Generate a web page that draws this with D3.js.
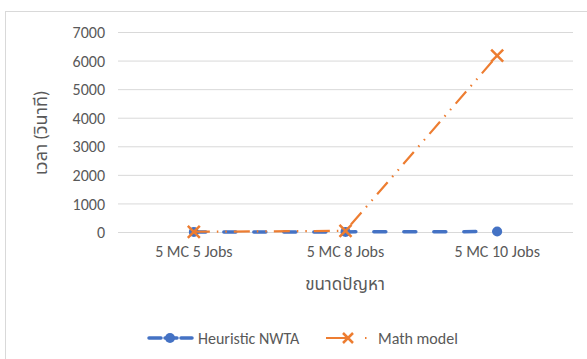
<!DOCTYPE html>
<html>

<head>
  <meta charset='utf-8'>
  <script src="https://cdn.jsdelivr.net/npm/d3@7"></script>
  <style type="text/css">
    body {
      margin: 0;
      background: #fff;
    }

    text {
      font-family: Calibri, "Noto Sans", "Noto Sans Thai", sans-serif;
      fill: #595959;
    }
  </style>
</head>

<body>
  <script>
    let categories = ["5 MC 5 Jobs", "5 MC 8 Jobs", "5 MC 10 Jobs"]
    let heuristic = [2, 4, 15]
    let mathModel = [8, 40, 6170]
    let yTicks = [0, 1000, 2000, 3000, 4000, 5000, 6000, 7000]
    let seriesNames = ["Heuristic NWTA", "Math model"]

    let w = 587
    let h = 359
    let blue = "#4472C4"
    let orange = "#ED7D31"

    let svg = d3.select('body')
      .append('svg')
      .attr('width', w)
      .attr('height', h)

    // chart frame
    svg.append("rect")
      .attr("x", 5.5)
      .attr("y", 11.5)
      .attr("width", 620)
      .attr("height", 360)
      .attr("fill", "none")
      .attr("stroke", "#d9d9d9")

    let xScale = d3.scaleBand()
      .domain(categories)
      .range([118, 573])

    let yScale = d3.scaleLinear()
      .domain([0, 7000])
      .range([232, 32])

    // grid
    svg.append("g")
      .selectAll("line")
      .data(yTicks)
      .enter()
      .append("line")
      .attr("x1", 118)
      .attr("x2", 573)
      .attr("y1", d => yScale(d) + 0.5)
      .attr("y2", d => yScale(d) + 0.5)
      .attr("stroke", "#d9d9d9")
      .attr("stroke-width", 1)

    let yAxis = d3.axisLeft(yScale).tickValues(yTicks).tickFormat(d3.format("d")).tickSize(0).tickPadding(0)
    let gy = svg.append("g")
      .attr("transform", "translate(105,0)")
      .call(yAxis)
    gy.select(".domain").remove()
    gy.selectAll("text").style("font-size", "16px").attr("dy", "0.35em")

    let xAxis = d3.axisBottom(xScale).tickSize(0).tickPadding(0)
    let gx = svg.append("g")
      .attr("transform", "translate(0,245)")
      .call(xAxis)
    gx.select(".domain").remove()
    gx.selectAll("text").style("font-size", "16px").attr("dy", "0.75em")

    let cx = d => xScale(d) + xScale.bandwidth() / 2

    // heuristic series
    let line1 = d3.line()
      .x((d, i) => cx(categories[i]))
      .y(d => yScale(d))
    svg.append("path")
      .datum(heuristic)
      .attr("d", line1)
      .attr("fill", "none")
      .attr("stroke", blue)
      .attr("stroke-width", 3.5)
      .attr("stroke-dasharray", "12,18")
      .attr("stroke-linecap", "round")
    svg.append("g")
      .selectAll("circle")
      .data(heuristic)
      .enter()
      .append("circle")
      .attr("cx", (d, i) => cx(categories[i]))
      .attr("cy", d => yScale(d))
      .attr("r", 5)
      .attr("fill", blue)

    // math model series
    svg.append("path")
      .datum(mathModel)
      .attr("d", line1)
      .attr("fill", "none")
      .attr("stroke", orange)
      .attr("stroke-width", 2.2)
      .attr("stroke-dasharray", "16,7,1.5,7,1.5,7")

    function cross(g, x, y, s) {
      g.append("path")
        .attr("d", `M${x - s},${y - s}L${x + s},${y + s}M${x - s},${y + s}L${x + s},${y - s}`)
        .attr("stroke", orange)
        .attr("stroke-width", 2.5)
        .attr("fill", "none")
    }
    let marks = svg.append("g")
    mathModel.forEach((d, i) => cross(marks, cx(categories[i]), yScale(d), 6))

    // axis titles
    svg.append("text")
      .attr("transform", "translate(47,133) rotate(-90)")
      .attr("text-anchor", "middle")
      .style("font-size", "18px")
      .text("เวลา (วินาที)")

    svg.append("text")
      .attr("x", 345)
      .attr("y", 290)
      .attr("text-anchor", "middle")
      .style("font-size", "17px")
      .text("ขนาดปัญหา")

    // legend
    let leg = svg.append("g")
    leg.append("line")
      .attr("x1", 149).attr("x2", 192).attr("y1", 338).attr("y2", 338)
      .attr("stroke", blue).attr("stroke-width", 3.5)
      .attr("stroke-dasharray", "12,4").attr("stroke-linecap", "round")
    leg.append("circle").attr("cx", 170).attr("cy", 338).attr("r", 5).attr("fill", blue)
    leg.append("text").attr("x", 198).attr("y", 338).attr("dy", "0.35em")
      .style("font-size", "16px").text(seriesNames[0])

    leg.append("line")
      .attr("x1", 326).attr("x2", 370).attr("y1", 338).attr("y2", 338)
      .attr("stroke", orange).attr("stroke-width", 2.2)
      .attr("stroke-dasharray", "22,17,1.5,20")
    cross(leg, 348, 338, 5)
    leg.append("text").attr("x", 378).attr("y", 338).attr("dy", "0.35em")
      .style("font-size", "16px").text(seriesNames[1])
  </script>
</body>

</html>
